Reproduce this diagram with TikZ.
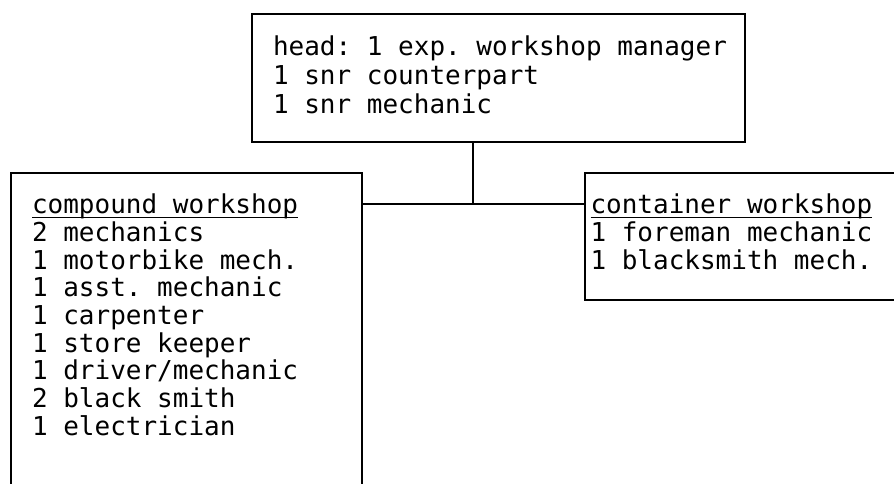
\documentclass[tikz,border=0pt]{standalone}
\usepackage{fontspec}
\setmonofont{DejaVu Sans Mono}
\newcommand{\ultext}[1]{\leavevmode\setbox0\hbox{#1}\rlap{\rule[-4.5pt]{\wd0}{1.5pt}}\box0}

\begin{document}
\begin{tikzpicture}[x=1pt, y=-1pt, line width=2pt,
  unit/.style={draw, rectangle, inner sep=0pt, anchor=north west},
  staff/.style={inner sep=0pt, anchor=north west, align=left, font=\ttfamily\fontsize{26}{27.7}\selectfont}]

\useasboundingbox (0,0) rectangle (894,484);
\clip (0,0) rectangle (894,484);

% boxes (left and right ones run off the page)
\node[unit, minimum width=493pt, minimum height=128pt] (head) at (251,13) {};
\node[unit, minimum width=351pt, minimum height=340pt] (compound) at (10,172) {};
\node[unit, minimum width=340pt, minimum height=127pt] (container) at (584,172) {};

% texts
\node[staff, font=\ttfamily\fontsize{26}{29}\selectfont] (headtxt) at (272,35) {head: 1 exp. workshop manager\\1 snr counterpart\\1 snr mechanic};
\node[staff] (compoundtxt) at (31,193) {\ultext{compound workshop}\\2 mechanics\\1 motorbike mech.\\1 asst. mechanic\\1 carpenter\\1 store keeper\\1 driver/mechanic\\2 black smith\\1 electrician};
\node[staff] (containertxt) at (589.5,193) {\ultext{container workshop}\\1 foreman mechanic\\1 blacksmith mech.};

% connectors
\coordinate (joint) at (473,204);
\draw (joint |- head.south) -- (joint); %head-joint
\draw (compound.east |- joint) -- (container.west |- joint); %compound-container

\end{tikzpicture}
\end{document}
